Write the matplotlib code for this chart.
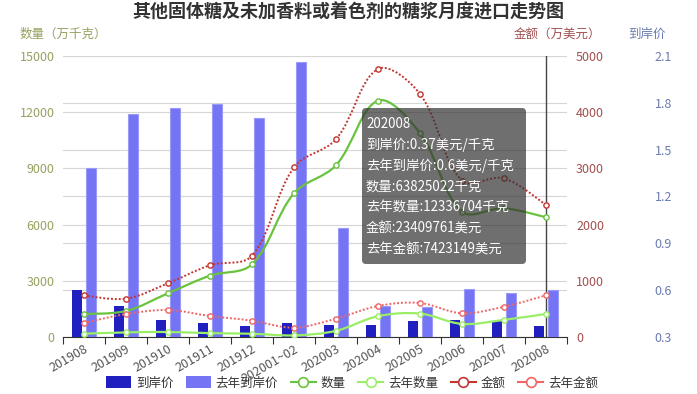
import matplotlib
matplotlib.use('Agg')
import matplotlib.pyplot as plt
from matplotlib.path import Path
from matplotlib.patches import PathPatch, FancyBboxPatch, Patch
from matplotlib.lines import Line2D
from matplotlib.transforms import IdentityTransform
import numpy as np

plt.rcParams['font.family'] = ['Noto Sans CJK SC', 'DejaVu Sans']

# --- data ---
months = ['201908', '201909', '201910', '201911', '201912', '202001~02',
          '202003', '202004', '202005', '202006', '202007', '202008']
price = [0.60, 0.50, 0.41, 0.39, 0.37, 0.39, 0.38, 0.38, 0.40, 0.41, 0.40, 0.37]          # 美元/千克
price_ly = [1.38, 1.73, 1.77, 1.79, 1.70, 2.06, 1.00, 0.50, 0.49, 0.61, 0.58, 0.60]
qty = [1234, 1388, 2333, 3274, 3881, 7672, 9167, 12616, 10875, 6690, 6871, 6383]        # 万千克
qty_ly = [176, 245, 268, 205, 174, 86, 330, 1110, 1250, 700, 915, 1234]
value = [742, 682, 956, 1276, 1447, 3020, 3518, 4769, 4324, 2781, 2824, 2341]           # 万美元
value_ly = [249, 409, 480, 374, 290, 166, 326, 552, 605, 422, 539, 742]

tip_lines = ['202008', '到岸价:0.37美元/千克', '去年到岸价:0.6美元/千克', '数量:63825022千克',
             '去年数量:12336704千克', '金额:23409761美元', '去年金额:7423149美元']

W, H = 697, 394
L, R, B, T = 63, 567, 337, 56
CAT_PX = (R - L) / len(months)
PLOT_H = B - T

C_DARK = '#2020c0'
C_LIGHT = '#7474f4'
C_QTY = '#6ac33f'
C_QTY_LY = '#99ee66'
C_VAL = '#c23531'
C_VAL_LY = '#ee6666'
C_LEFT = '#99a060'
C_MID = '#a35050'
C_RIGHT = '#6a7bb0'
GRID = '#d6d6d6'


def smooth_line(ax, ys, ymin, ymax, color, ls, lw=1.5):
    # echarts-like bezier smoothing, done in pixel space
    n = len(ys)
    px = np.arange(n) * CAT_PX
    py = (np.asarray(ys, float) - ymin) / (ymax - ymin) * PLOT_H
    p = np.column_stack([px, py])
    s = 0.35
    cin = p.copy()
    cout = p.copy()
    for i in range(1, n - 1):
        v = p[i + 1] - p[i - 1]
        d0 = np.hypot(*(p[i] - p[i - 1]))
        d1 = np.hypot(*(p[i + 1] - p[i]))
        r = d1 / (d0 + d1)
        cin[i] = p[i] - v * s * (1 - r)
        cout[i] = p[i] + v * s * r
    verts = [p[0]]
    codes = [Path.MOVETO]
    for i in range(n - 1):
        verts += [cout[i], cin[i + 1], p[i + 1]]
        codes += [Path.CURVE4] * 3
    verts = np.array(verts)
    verts[:, 0] = verts[:, 0] / CAT_PX
    verts[:, 1] = verts[:, 1] / PLOT_H * (ymax - ymin) + ymin
    ax.add_patch(PathPatch(Path(verts, codes), fill=False, ec=color, lw=lw, ls=ls, zorder=2))
    ax.plot(np.arange(n), ys, 'o', ms=3.8, mfc='white', mec=color, mew=1.0, zorder=3)


fig = plt.figure(figsize=(W / 100, H / 100), dpi=100)
rect = [L / W, 1 - B / H, (R - L) / W, PLOT_H / H]
ax_q = fig.add_axes(rect)
ax_p = fig.add_axes(rect, sharex=ax_q)
ax_ql = fig.add_axes(rect, sharex=ax_q)
ax_v = fig.add_axes(rect, sharex=ax_q)
for z, a in enumerate([ax_q, ax_p, ax_ql, ax_v]):
    a.set_zorder(z)
    a.patch.set_visible(False)
    for sp in a.spines.values():
        sp.set_visible(False)

x = np.arange(len(months))

# base axes: left scale, grid, x axis
ax_q.set_xlim(-0.5, len(months) - 0.5)
ax_q.set_ylim(0, 15000)
ax_q.set_yticks(np.arange(0, 15001, 3000))
ax_q.tick_params(axis='y', length=0, pad=6, labelsize=9, labelcolor=C_LEFT)
ax_q.grid(axis='y', color=GRID, lw=0.8)
ax_q.spines['bottom'].set_visible(True)
ax_q.spines['bottom'].set_color('#333333')
ax_q.set_xticks(np.arange(-0.5, len(months), 1))
ax_q.set_xticklabels([])
ax_q.set_xticks(x, months, minor=True)
ax_q.tick_params(axis='x', which='major', length=5, color='#333333', direction='out')
ax_q.tick_params(axis='x', which='minor', length=0, pad=4, labelsize=9, labelcolor='#555555')
for lbl in ax_q.get_xticklabels(minor=True):
    lbl.set_rotation(30)
    lbl.set_ha('right')
    lbl.set_rotation_mode('anchor')

# price bars
ax_p.set_ylim(0.3, 2.1)
ax_p.set_yticks(np.arange(0.3, 2.11, 0.3))
ax_p.set_yticklabels(['%.1f' % t for t in np.arange(0.3, 2.11, 0.3)])
ax_p.yaxis.tick_right()
ax_p.tick_params(axis='y', length=0, pad=63, labelsize=9, labelcolor=C_RIGHT)
ax_p.xaxis.set_visible(False)
ax_p.set_axisbelow(True)
ax_p.grid(axis='y', color=GRID, lw=0.8)
bw = 0.24
ax_p.bar(x - 0.157, np.array(price) - 0.3, bottom=0.3, width=bw, color=C_DARK, zorder=2)
ax_p.bar(x + 0.16, np.array(price_ly) - 0.3, bottom=0.3, width=bw, color=C_LIGHT,
         edgecolor='#9a9af8', lw=0.8, zorder=2)
ax_p.axvline(len(months) - 1, color='#444444', lw=1, zorder=3)

# quantity lines
ax_ql.set_ylim(0, 15000)
ax_ql.set_yticks([])
ax_ql.xaxis.set_visible(False)
smooth_line(ax_ql, qty, 0, 15000, C_QTY, '-', 1.6)
smooth_line(ax_ql, qty_ly, 0, 15000, C_QTY_LY, '-', 1.6)

# value lines
ax_v.set_ylim(0, 5000)
ax_v.set_yticks(np.arange(0, 5001, 1000))
ax_v.yaxis.tick_right()
ax_v.tick_params(axis='y', length=0, pad=6.5, labelsize=9, labelcolor=C_MID)
ax_v.xaxis.set_visible(False)
smooth_line(ax_v, value, 0, 5000, C_VAL, (0, (1, 1)), 1.4)
smooth_line(ax_v, value_ly, 0, 5000, C_VAL_LY, (0, (1, 1)), 1.4)

# titles and axis names
fig.text(348 / W, 1 - 12 / H, '其他固体糖及未加香料或着色剂的糖浆月度进口走势图',
         ha='center', va='center', fontsize=13, fontweight='bold', color='#333333')
fig.text(20 / W, 1 - 34 / H, '数量（万千克）', ha='left', va='center', fontsize=9, color=C_LEFT)
fig.text(601 / W, 1 - 34 / H, '金额（万美元）', ha='right', va='center', fontsize=9, color=C_MID)
fig.text(628 / W, 1 - 34 / H, '到岸价', ha='left', va='center', fontsize=9, color=C_RIGHT)

# legend
handles = [Patch(facecolor=C_DARK), Patch(facecolor=C_LIGHT)]
for c in [C_QTY, C_QTY_LY, C_VAL, C_VAL_LY]:
    handles.append(Line2D([], [], color=c, lw=1.5, marker='o', ms=7, mfc='white', mew=1.2))
fig.legend(handles, ['到岸价', '去年到岸价', '数量', '去年数量', '金额', '去年金额'],
           loc='center', bbox_to_anchor=(352 / W, 1 - 383 / H), ncol=6, frameon=False,
           fontsize=9, handlelength=2.0, handleheight=1.1, handletextpad=0.4,
           columnspacing=1.0, labelcolor='#333333')

# tooltip
box = FancyBboxPatch((362, H - 264), 164, 156, boxstyle='round,pad=0,rounding_size=4',
                     transform=IdentityTransform(), fc='#323232', ec='none', alpha=0.7, zorder=10)
fig.add_artist(box)
for i, line in enumerate(tip_lines):
    fig.text(366 / W, 1 - (124 + i * 21) / H, line, ha='left', va='center',
             fontsize=9.6, color='white', zorder=11)

fig.savefig('out.png', dpi=100)
